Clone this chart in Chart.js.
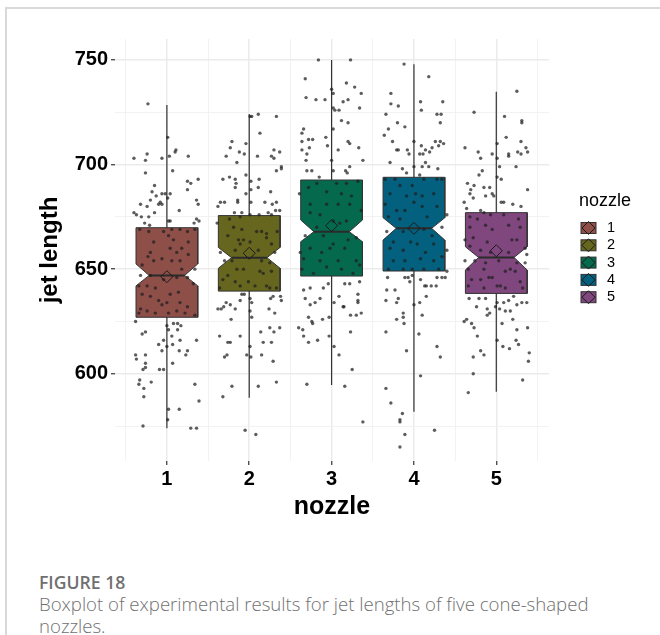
<!DOCTYPE html>
<html>
<head>
<meta charset="utf-8">
<script src="https://cdn.jsdelivr.net/npm/chart.js@4.4.1/dist/chart.umd.min.js"></script>
<style>
  body { margin: 0; background: #fff; width: 660px; height: 635px; overflow: hidden; position: relative; }
  #frame { position: absolute; left: 5px; top: 7px; right: 0; bottom: 0; border-left: 2px solid #d9d9d9; border-top: 2px solid #d9d9d9; }
  #chart { position: absolute; left: 0; top: 0; }
  #caption { position: absolute; left: 39px; top: 571px; font-family: "Open Sans", "Noto Sans", sans-serif; white-space: nowrap; }
  #caption .fig { font-size: 17.6px; font-weight: 600; color: #707070; line-height: 22px; }
  #caption .desc { font-size: 18.6px; font-weight: 300; color: #707070; line-height: 22px; margin-top: 0; }
</style>
</head>
<body>
<div id="frame"></div>
<canvas id="chart" width="660" height="530"></canvas>
<div id="caption">
  <div class="fig">FIGURE 18</div>
  <div class="desc">Boxplot of experimental results for jet lengths of five cone-shaped<br>nozzles.</div>
</div>
<script>
// categories
const nozzles = [1, 2, 3, 4, 5];
const boxColors = ["#8f4f49", "#66661f", "#05694e", "#03607e", "#80477f"];

// box statistics
const whiskerLow  = [573.9, 588.5, 594.6, 581.8, 591.4];
const q1          = [627.0, 639.5, 646.7, 649.1, 638.4];
const notchLow    = [642.0, 650.4, 663.1, 663.9, 649.6];
const median      = [647.0, 655.5, 667.9, 669.5, 655.6];
const notchHigh   = [652.5, 660.4, 673.5, 674.6, 660.7];
const q3          = [669.8, 675.6, 692.6, 693.9, 677.0];
const whiskerHigh = [728.5, 724.2, 750.0, 747.9, 734.8];
const means       = [646.4, 657.6, 670.8, 669.5, 658.8];

// axis ticks
const yTicks = [575, 600, 625, 650, 675, 700, 725, 750];
const xTicks = [0.5, 1, 1.5, 2, 2.5, 3, 3.5, 4, 4.5, 5, 5.5];

// jittered raw points: [horizontal jitter, jet length]
const jitter1 = [
  [-0.23,729],[0.01,713],[0.11,707],[0.10,706],[0.03,704],[-0.06,703],[-0.40,703],[-0.24,705],[-0.26,702],[0.26,704],
  [0.07,697],[-0.26,696],[0.38,693],[0.25,692],[0.29,691],[-0.15,690],[-0.18,687],[-0.06,686],[-0.02,686],[0.04,686],
  [0.25,688],[-0.13,685],[-0.08,682],[-0.06,681],[-0.10,681],[-0.32,681],[-0.24,680],[-0.20,683],[0.36,683],[0.38,681],
  [0.01,684],[-0.40,677],[-0.37,676],[-0.31,675],[-0.22,675],[-0.15,677],[0.15,678],[0.36,674],[0.39,673],[-0.27,672],
  [-0.21,671],[0.02,673],[0.04,673],[0.33,672],
  [-0.33,669],[-0.22,668],[-0.04,668],[0.06,669],[0.16,669],[0.25,668],[0.34,669],[-0.16,663],[0.02,666],[0.08,664],
  [0.26,663],[0.18,660],[0.04,660],[0.12,658],[-0.20,658],[-0.23,656],[0.26,657],[0.16,654],[0.06,654],[-0.06,655],
  [-0.16,654],[-0.30,652],[0.18,650],[0.34,650],[-0.20,647],[-0.32,647],[0.12,646],[0.25,646],[-0.04,645],[-0.24,642],
  [-0.34,642],[-0.14,641],[0.04,638],[0.14,639],[0.32,643],[-0.30,638],[-0.20,637],[-0.10,635],[-0.06,633],[0.00,634],
  [0.16,634],[0.25,632],[-0.32,631],[-0.24,630],[-0.14,629],[0.22,629],[0.34,628],[-0.34,629],[0.02,629],[0.12,630],
  [-0.38,625],[0.00,623],[0.08,624],[0.13,624],[0.17,623],[0.02,621],[0.13,621],[-0.30,619],[-0.26,620],[0.06,618],
  [-0.04,616],[0.16,616],[0.36,616],[-0.10,614],[0.00,613],[0.07,614],[-0.06,611],[0.15,611],[0.25,611],[0.23,609],
  [-0.38,609],[-0.37,607],[-0.26,609],[0.07,605],[-0.26,605],[-0.29,602],[-0.26,603],[-0.09,602],[-0.04,602],[-0.33,597],
  [-0.34,595],[-0.19,596],[-0.28,593],[-0.28,589],[0.34,595],[0.39,587],[0.02,583],[0.15,583],[0.01,578],[-0.29,575],
  [0.29,574],[0.36,574]
];
const jitter2 = [
  [0.01,723],[0.03,723],[0.11,724],[0.33,723],[0.13,715],[-0.21,711],[-0.23,708],[-0.28,704],[-0.15,701],[-0.12,706],
  [-0.06,705],[-0.04,710],[0.10,704],[0.27,704],[0.30,703],[0.30,707],[0.37,706],[0.39,699],[0.39,698],[0.33,697],
  [-0.04,695],[-0.32,693],[-0.24,694],[-0.17,693],[-0.16,691],[-0.17,689],[0.02,692],[0.12,693],[0.11,689],[0.02,688],
  [-0.04,686],[0.26,687],[-0.35,682],[-0.30,682],[-0.38,680],[-0.14,683],[-0.14,682],[0.02,682],[0.19,682],[0.28,681],
  [0.33,682],[0.23,677],[0.37,678],[0.32,678],[-0.09,677],[-0.18,677],
  [-0.39,672],[-0.24,674],[-0.11,675],[0.01,676],[0.12,676],[0.27,676],[-0.19,670],[-0.09,669],[0.09,668],[0.15,668],
  [0.21,667],[0.34,668],[-0.26,666],[-0.13,664],[-0.07,664],[0.01,663],[0.21,665],[-0.11,662],[0.27,662],[-0.35,658],
  [-0.17,659],[0.11,659],[0.31,658],[-0.30,654],[-0.21,654],[-0.15,650],[-0.07,650],[0.15,654],[0.25,653],[0.13,649],
  [0.17,648],[0.27,649],[-0.26,647],[-0.32,645],[-0.17,644],[-0.01,644],[0.07,642],[0.21,642],[0.25,641],[0.33,641],
  [-0.36,641],[-0.11,642],
  [-0.09,638],[-0.06,638],[0.01,636],[0.03,634],[0.29,637],[0.38,637],[0.26,636],[0.39,635],[-0.28,634],[-0.31,632],
  [-0.23,633],[-0.38,631],[-0.34,631],[-0.17,631],[-0.11,635],[0.01,630],[0.03,627],[0.24,631],[0.31,629],[-0.22,626],
  [0.37,622],[0.25,622],[0.30,620],[0.14,620],[-0.36,618],[-0.11,618],[-0.26,615],[-0.23,615],[0.17,615],[0.27,615],
  [0.01,613],[-0.03,609],[0.02,608],[0.15,609],[-0.27,609],[-0.30,608],[0.29,606],[0.33,596],[0.11,594],[-0.21,594],
  [-0.32,589],[-0.05,573],[0.08,571]
];
const jitter3 = [
  [-0.16,750],[0.23,750],[-0.32,741],[0.18,739],[0.28,737],[0.00,736],[0.02,734],[0.36,734],[0.14,730],[0.20,731],
  [-0.31,732],[-0.19,731],[-0.08,731],[0.34,727],[0.02,727],[0.04,726],[0.09,726],[0.12,721],[0.20,720],[-0.34,717],
  [-0.36,715],[-0.36,711],[-0.28,712],[-0.23,712],[-0.07,713],[0.20,711],[0.22,710],[-0.36,707],[-0.27,708],[-0.05,709],
  [0.08,707],[0.33,708],[-0.30,705],[-0.31,702],[0.38,702],[-0.24,697],[-0.30,697],[-0.15,694],[0.17,697],[0.22,699],
  [0.19,696],[0.02,697],[0.00,702],[0.02,717],
  [-0.39,686],[-0.28,689],[-0.18,691],[0.06,691],[0.18,691],[0.32,692],[-0.06,687],[0.12,686],[0.24,685],[-0.26,681],
  [-0.06,681],[0.08,681],[0.22,681],[0.36,678],[-0.26,677],[-0.14,676],[0.02,673],[0.18,673],[0.10,672],[-0.18,670],
  [-0.32,666],[-0.10,666],[0.02,662],[0.20,664],[0.30,665],[-0.26,660],[-0.02,660],[0.16,660],[-0.34,655],[-0.14,654],
  [0.08,654],[0.30,654],[-0.36,650],[-0.06,651],[0.12,650],[0.26,648],[-0.22,648],[0.34,652],[-0.38,658],[-0.12,658],
  [-0.34,640],[-0.26,641],[-0.10,641],[-0.04,643],[0.16,643],[0.22,643],[0.34,644],[-0.32,636],[-0.14,636],[0.09,637],
  [0.32,638],[0.32,635],[0.32,634],[-0.26,633],[-0.20,634],[0.14,632],[0.15,632],[0.03,634],[-0.28,627],[-0.11,626],
  [-0.03,627],[0.23,628],[0.30,628],[0.36,629],[-0.24,625],[-0.23,624],[-0.40,622],[-0.35,621],[-0.03,618],[-0.17,616],
  [-0.28,615],[-0.34,618],[0.23,620],[0.03,613],[0.09,609],[0.25,602],[-0.30,595],[0.16,594],[0.38,577]
];
const jitter4 = [
  [-0.12,748],[0.18,742],[-0.28,734],[0.08,730],[0.35,730],[-0.28,729],[-0.19,728],[-0.34,724],[0.09,726],[0.28,724],
  [0.33,724],[-0.20,720],[-0.11,718],[0.32,720],[-0.31,717],[-0.36,714],[-0.26,711],[-0.21,707],[-0.19,707],[-0.08,707],
  [-0.06,705],[0.00,711],[0.09,709],[0.14,707],[0.22,708],[0.26,711],[0.32,711],[0.36,710],[0.30,709],[0.07,705],
  [0.11,705],[0.19,706],[-0.29,701],[-0.14,698],[0.00,699],[0.10,699],[0.18,699],[0.29,698],[-0.09,696],[0.07,695],
  [0.14,701],
  [-0.35,693],[-0.23,693],[-0.17,690],[-0.02,690],[0.12,693],[0.28,693],[0.34,693],[-0.29,686],[-0.09,685],[0.02,686],
  [0.10,685],[0.24,686],[-0.35,681],[-0.21,678],[-0.11,678],[0.00,682],[0.10,680],[0.28,680],[-0.31,675],[-0.17,674],
  [0.16,675],[0.40,676],[-0.33,668],[-0.13,668],[0.12,669],[0.22,666],[0.34,670],[-0.25,663],[-0.04,663],[0.04,662],
  [0.24,662],[-0.29,660],[-0.13,659],[0.14,658],[0.40,659],[-0.25,654],[-0.11,654],[0.08,655],[0.24,654],[0.34,656],
  [-0.31,650],[-0.13,650],[-0.02,650],[0.12,650],[0.30,650],[0.40,649],
  [-0.32,646],[-0.11,646],[-0.07,646],[-0.05,644],[-0.02,647],[0.08,645],[0.13,642],[0.15,642],[0.21,642],[0.28,646],
  [0.34,646],[0.38,646],[0.27,642],[-0.23,640],[-0.33,640],[-0.34,635],[-0.21,634],[-0.19,636],[0.00,633],[0.15,637],
  [0.07,634],[-0.13,629],[-0.13,627],[-0.21,626],[-0.12,624],[0.10,628],[-0.34,620],[0.06,619],[0.28,613],[-0.09,611],
  [0.32,608],[0.08,599],[-0.34,593],[-0.28,586],[-0.14,581],[-0.17,578],[-0.17,577],[-0.11,571],[0.25,573],[-0.17,565]
];
const jitter5 = [
  [0.25,735],[-0.27,725],[0.10,723],[0.31,721],[0.31,720],[0.12,713],[0.01,710],[0.30,711],[-0.38,708],[-0.22,706],
  [-0.19,703],[-0.05,705],[0.15,705],[0.15,704],[0.01,703],[0.26,706],[0.30,705],[0.36,708],[0.38,706],[0.04,699],
  [0.24,699],[-0.21,695],[-0.17,697],[0.06,693],[0.01,694],[-0.35,691],[-0.27,690],[-0.31,688],[-0.32,686],[-0.28,684],
  [-0.15,689],[-0.08,689],[-0.13,685],[-0.05,686],[-0.03,685],[0.06,682],[0.09,682],[0.20,681],[0.38,688],[-0.39,682],
  [-0.36,679],[-0.19,678],[-0.15,677],[0.30,680],
  [-0.32,675],[-0.23,674],[-0.07,676],[0.09,676],[0.27,674],[-0.32,670],[-0.13,671],[-0.05,669],[0.15,671],[0.29,670],
  [-0.38,664],[-0.28,665],[-0.11,663],[0.19,664],[0.25,664],[0.35,660],[-0.32,661],[-0.19,659],[-0.07,658],[0.15,658],
  [0.37,657],[-0.38,654],[-0.26,654],[-0.13,653],[0.03,654],[0.25,653],[0.35,653],[-0.34,650],[-0.15,650],[-0.09,646],
  [-0.05,646],[0.11,649],[0.17,650],[0.23,649],[-0.30,645],[-0.19,645],[0.05,642],[0.11,641],[0.29,644],[-0.34,642],
  [-0.15,641],[0.32,641],[0.01,642],
  [-0.33,636],[-0.21,636],[-0.13,636],[0.01,634],[0.09,634],[0.15,635],[0.21,637],[0.25,633],[0.31,634],[0.37,634],
  [-0.24,632],[-0.11,631],[-0.08,629],[-0.01,632],[0.04,631],[0.11,630],[0.17,630],[-0.36,626],[-0.39,625],[-0.30,624],
  [-0.27,622],[-0.11,628],[0.20,626],[0.07,624],[0.38,622],[-0.23,618],[0.25,621],[0.01,616],[0.08,613],[0.16,612],
  [0.24,616],[0.27,614],[-0.19,611],[-0.15,609],[-0.28,608],[0.40,610],[0.39,606],[-0.28,600],[0.32,597],[-0.34,591]
];
const jitters = [jitter1, jitter2, jitter3, jitter4, jitter5];

// drawing constants (box half width, notch waist half width)
const HALF = 0.375;
const WAIST = 0.215;
const FONT = '"Liberation Sans", Arial, sans-serif';

function notchOutline(i) {
  const c = nozzles[i];
  return [
    {x: c - HALF, y: q1[i]}, {x: c - HALF, y: notchLow[i]}, {x: c - WAIST, y: median[i]},
    {x: c - HALF, y: notchHigh[i]}, {x: c - HALF, y: q3[i]}, {x: c + HALF, y: q3[i]},
    {x: c + HALF, y: notchHigh[i]}, {x: c + WAIST, y: median[i]}, {x: c + HALF, y: notchLow[i]},
    {x: c + HALF, y: q1[i]}, {x: c - HALF, y: q1[i]}
  ];
}

const datasets = [];

// raw points on top
jitters.forEach(function (pts, i) {
  datasets.push({
    type: "scatter",
    order: 0,
    data: pts.map(p => ({x: nozzles[i] + p[0], y: p[1]})),
    pointRadius: 1.7,
    pointBorderWidth: 0,
    pointBackgroundColor: "rgba(30,30,30,0.72)",
  });
});

// mean diamonds
datasets.push({
  type: "scatter",
  order: 1,
  data: means.map((m, i) => ({x: nozzles[i], y: m})),
  pointStyle: "rectRot",
  pointRadius: 6,
  pointBorderWidth: 1,
  pointBorderColor: "#1a1a1a",
  pointBackgroundColor: "rgba(0,0,0,0)",
});

nozzles.forEach(function (n, i) {
  // median segment
  datasets.push({
    type: "line",
    order: 2,
    data: [{x: n - WAIST, y: median[i]}, {x: n + WAIST, y: median[i]}],
    borderColor: "#2b2b2b",
    borderWidth: 2,
    pointRadius: 0,
    fill: false,
  });
  // notched box
  datasets.push({
    type: "line",
    order: 3,
    data: notchOutline(i),
    borderColor: "#333333",
    borderWidth: 1,
    backgroundColor: boxColors[i],
    pointRadius: 0,
    tension: 0,
    fill: "shape",
  });
  // whisker
  datasets.push({
    type: "line",
    order: 4,
    data: [{x: n, y: whiskerLow[i]}, {x: n, y: whiskerHigh[i]}],
    borderColor: "#333333",
    borderWidth: 1.2,
    pointRadius: 0,
    fill: false,
  });
});

// legend drawn like ggplot's key column
const nozzleLegend = {
  id: "nozzleLegend",
  afterDraw(chart) {
    const ctx = chart.ctx;
    ctx.save();
    ctx.fillStyle = "#000";
    ctx.textBaseline = "middle";
    ctx.font = "18px " + FONT;
    ctx.fillText("nozzle", 579, 201);
    ctx.font = "14.5px " + FONT;
    nozzles.forEach(function (n, i) {
      const cy = 228 + i * 17.3;
      ctx.fillStyle = boxColors[i];
      ctx.strokeStyle = "#333";
      ctx.lineWidth = 1;
      ctx.fillRect(581, cy - 5.5, 15, 11);
      ctx.strokeRect(581, cy - 5.5, 15, 11);
      ctx.beginPath();
      ctx.moveTo(588.5, cy - 6.5);
      ctx.lineTo(595, cy);
      ctx.lineTo(588.5, cy + 6.5);
      ctx.lineTo(582, cy);
      ctx.closePath();
      ctx.strokeStyle = "#1a1a1a";
      ctx.stroke();
      ctx.fillStyle = "#000";
      ctx.fillText(String(n), 607, cy);
    });
    ctx.restore();
  }
};

const canvasRef = document.getElementById("chart");

let myChart = new Chart(canvasRef, {
  data: { datasets: datasets },
  plugins: [nozzleLegend],
  options: {
    responsive: false,
    animation: false,
    devicePixelRatio: 1,
    events: [],
    layout: { padding: { left: 0, right: 111, top: 39, bottom: 0 } },
    plugins: { legend: { display: false }, tooltip: { enabled: false } },
    scales: {
      x: {
        type: "linear",
        min: 0.37,
        max: 5.64,
        afterBuildTicks: s => { s.ticks = xTicks.map(v => ({value: v})); },
        afterFit: s => { s.height = 69; },
        border: { display: false },
        grid: {
          color: c => Number.isInteger(c.tick.value) ? "#ebebeb" : "#f1f1f1",
          lineWidth: c => Number.isInteger(c.tick.value) ? 1.5 : 0.9,
          tickLength: 4,
          tickColor: c => Number.isInteger(c.tick.value) ? "#333" : "rgba(0,0,0,0)",
          tickWidth: 1.2,
        },
        ticks: {
          autoSkip: false,
          maxRotation: 0,
          padding: 2,
          color: "#000",
          font: { family: FONT, size: 20, weight: "bold" },
          callback: v => Number.isInteger(v) ? String(v) : "",
        },
        title: {
          display: true,
          text: "nozzle",
          color: "#000",
          font: { family: FONT, size: 25, weight: "bold" },
          padding: { top: 0, bottom: 8 },
        },
      },
      y: {
        type: "linear",
        min: 558.3,
        max: 760,
        afterBuildTicks: s => { s.ticks = yTicks.map(v => ({value: v})); },
        afterFit: s => { s.width = 115; },
        border: { display: false },
        grid: {
          color: c => c.tick.value % 50 === 0 ? "#ebebeb" : "#f1f1f1",
          lineWidth: c => c.tick.value % 50 === 0 ? 1.5 : 0.9,
          tickLength: 4,
          tickColor: c => c.tick.value % 50 === 0 ? "#333" : "rgba(0,0,0,0)",
          tickWidth: 1.2,
        },
        ticks: {
          autoSkip: false,
          padding: 3,
          color: "#000",
          font: { family: FONT, size: 20, weight: "bold" },
          callback: v => v % 50 === 0 ? String(v) : "",
        },
        title: {
          display: true,
          text: "jet length",
          color: "#000",
          font: { family: FONT, size: 24, weight: "bold" },
          padding: { top: 36, bottom: 0 },
        },
      },
    },
  },
});
</script>
</body>
</html>
